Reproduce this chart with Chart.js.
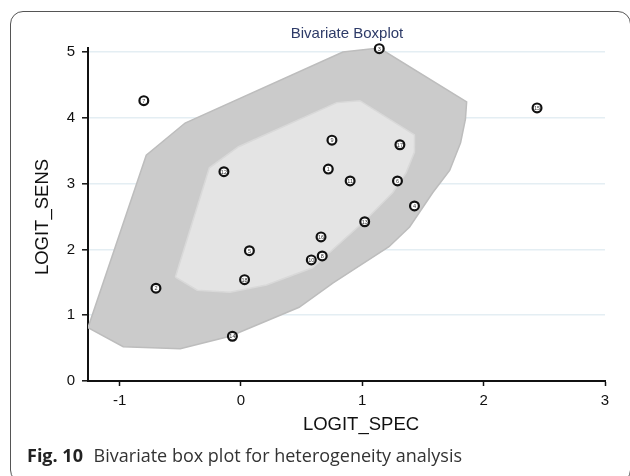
<!DOCTYPE html>
<html>
<head>
<meta charset="utf-8">
<script src="https://cdn.jsdelivr.net/npm/chart.js@4.4.0/dist/chart.umd.min.js"></script>
<style>
  html, body { margin: 0; padding: 0; background: #fff; }
  body { width: 630px; height: 476px; position: relative; overflow: hidden; }
  #frame {
    position: absolute; left: 10px; top: 11px; width: 621px; height: 472px;
    border: 1.3px solid #555; border-radius: 13px; box-sizing: border-box;
  }
  #chart { position: absolute; left: 0; top: 0; }
  #caption {
    position: absolute; left: 27px; top: 443px;
    font-family: "Open Sans", "Noto Sans", sans-serif; font-size: 18px;
    color: #333; white-space: nowrap;
  }
  #caption b { color: #222; margin-right: 6px; }
</style>
</head>
<body>
<div id="frame"></div>
<canvas id="chart" width="630" height="476"></canvas>
<div id="caption"><b>Fig. 10</b> Bivariate box plot for heterogeneity analysis</div>

<script>
// Study labels and their coordinates
const studyIds = ['1', '2', '3', '4', '5', '6', '7', '8', '9', '10', '11', '12', '13', '14', '15', '16', '17', '18'];
const logitSpec = [0.72, -0.70, 1.14, 1.43, 0.07, 1.29, -0.80, 0.67, 0.75, 0.58, 0.90, -0.14, 1.02, -0.07, 2.44, 0.66, 1.31, 0.03];
const logitSens = [3.22, 1.41, 5.05, 2.66, 1.98, 3.04, 4.26, 1.90, 3.66, 1.84, 3.04, 3.18, 2.42, 0.68, 4.15, 2.19, 3.59, 1.54];

// Outer "fence" polygon
const outerX = [-1.26, -0.78, -0.46, 0.84, 1.14, 1.86, 1.85, 1.81, 1.72, 1.58, 1.39, 1.22, 0.76, 0.48, -0.09, -0.50, -0.97, -1.26];
const outerY = [0.81, 3.43, 3.92, 5.00, 5.06, 4.24, 3.98, 3.62, 3.20, 2.86, 2.34, 2.04, 1.49, 1.12, 0.68, 0.49, 0.52, 0.81];

// Inner "hinge" polygon
const innerX = [-0.54, -0.26, -0.02, 0.79, 0.98, 1.43, 1.43, 1.36, 1.25, 1.03, 0.59, 0.21, -0.09, -0.36, -0.54];
const innerY = [1.58, 3.24, 3.56, 4.23, 4.26, 3.74, 3.48, 3.16, 2.86, 2.45, 1.72, 1.46, 1.35, 1.38, 1.58];

const xTicks = [-1, 0, 1, 2, 3];
const yTicks = [0, 1, 2, 3, 4, 5];

Chart.defaults.font.family = '"Liberation Sans", Arial, sans-serif';

function toPoints(xs, ys) {
    return xs.map((x, i) => ({ x: x, y: ys[i] }));
}

// Title, axis titles and the little numbers inside the circles
const labelPlugin = {
    id: 'labels',
    afterDraw(chart) {
        const ctx = chart.ctx;
        ctx.save();

        ctx.fillStyle = '#2e3b68';
        ctx.font = '15px "Liberation Sans", Arial, sans-serif';
        ctx.textAlign = 'center';
        ctx.textBaseline = 'middle';
        ctx.fillText('Bivariate Boxplot', 347, 34);

        ctx.fillStyle = '#111';
        ctx.font = '18.5px "Liberation Sans", Arial, sans-serif';
        ctx.fillText('LOGIT_SPEC', 361, 425);

        ctx.save();
        ctx.translate(43, 217);
        ctx.rotate(-Math.PI / 2);
        ctx.fillText('LOGIT_SENS', 0, 0);
        ctx.restore();

        // numbers inside the points
        const meta = chart.getDatasetMeta(2);
        ctx.font = '5.5px "Liberation Sans", Arial, sans-serif';
        ctx.fillStyle = '#333';
        meta.data.forEach((pt, i) => {
            ctx.fillText(studyIds[i], pt.x, pt.y + 0.5);
        });
        ctx.restore();
    }
};

const ctx = document.getElementById('chart');
const chart = new Chart(ctx, {
    type: 'line',
    data: {
        datasets: [{
            label: 'outer',
            data: toPoints(outerX, outerY),
            borderColor: '#bdbdbd',
            borderWidth: 1.5,
            backgroundColor: '#cbcbcb',
            fill: 'shape',
            pointRadius: 0,
            tension: 0,
            order: 3
        }, {
            label: 'inner',
            data: toPoints(innerX, innerY),
            borderColor: '#d9d9d9',
            borderWidth: 1.5,
            backgroundColor: '#e4e4e4',
            fill: 'shape',
            pointRadius: 0,
            tension: 0,
            order: 2
        }, {
            label: 'studies',
            data: toPoints(logitSpec, logitSens),
            showLine: false,
            clip: false,
            pointRadius: 4.4,
            pointBorderWidth: 2.2,
            pointBorderColor: '#111',
            pointBackgroundColor: '#fff',
            order: 1
        }]
    },
    options: {
        responsive: false,
        devicePixelRatio: 1,
        animation: false,
        layout: {
            padding: { left: 0, top: 48, right: 25, bottom: 0 }
        },
        plugins: {
            legend: { display: false },
            tooltip: { enabled: false },
            title: { display: false }
        },
        scales: {
            x: {
                type: 'linear',
                min: -1.26,
                max: 3,
                afterBuildTicks: function(scale) {
                    scale.ticks = xTicks.map(v => ({ value: v }));
                },
                afterFit: function(scale) {
                    scale.height = 95;
                },
                ticks: {
                    color: '#111',
                    font: { size: 15 },
                    padding: 6,
                    maxRotation: 0
                },
                grid: {
                    drawOnChartArea: false,
                    drawTicks: true,
                    tickColor: '#111',
                    tickLength: 5,
                    tickWidth: 1.5
                },
                border: { color: '#111', width: 2 }
            },
            y: {
                type: 'linear',
                min: 0,
                max: 5.06,
                afterBuildTicks: function(scale) {
                    scale.ticks = yTicks.map(v => ({ value: v }));
                },
                afterFit: function(scale) {
                    scale.width = 88;
                },
                ticks: {
                    color: '#111',
                    font: { size: 15 },
                    padding: 7
                },
                grid: {
                    color: '#e4eef3',
                    lineWidth: 1.6,
                    tickColor: '#111',
                    tickLength: 6,
                    tickWidth: 1.5
                },
                border: { color: '#111', width: 2 }
            }
        }
    },
    plugins: [labelPlugin]
});
</script>
</body>
</html>
